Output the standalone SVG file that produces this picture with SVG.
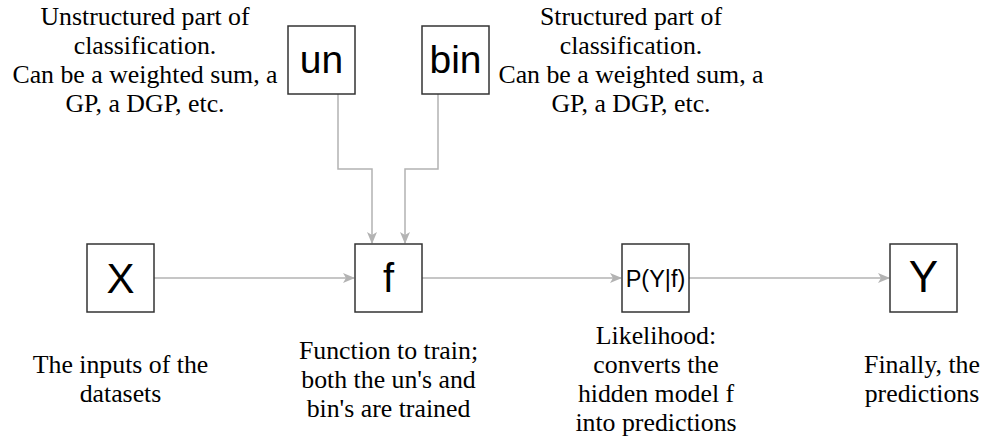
<svg xmlns="http://www.w3.org/2000/svg" width="984" height="441" viewBox="0 0 984 441">
  <style>
    .box { fill: #ffffff; stroke: #333333; stroke-width: 1.5; }
    .sym { font-family: "Liberation Sans", Arial, sans-serif; fill: #000000; text-anchor: middle; }
    .note { font-family: "Liberation Serif", "Times New Roman", serif; font-size: 25.8px; fill: #000000; text-anchor: middle; }
    .edge { fill: none; stroke: #b3b3b3; stroke-width: 1.5; }
  </style>
  <defs>
    <marker id="arrow" viewBox="0 0 12 10" refX="11" refY="5" markerWidth="12" markerHeight="10" markerUnits="userSpaceOnUse" orient="auto">
      <path d="M0,0 L12,5 L0,10 L3,5 z" fill="#b3b3b3"/>
    </marker>
  </defs>
  <rect width="984" height="441" fill="#ffffff"/>

  <!-- connectors -->
  <g id="connectors">
    <path class="edge" d="M154,278 H354" marker-end="url(#arrow)"/>
    <path class="edge" d="M422,278 H621" marker-end="url(#arrow)"/>
    <path class="edge" d="M689,278 H889" marker-end="url(#arrow)"/>
    <path class="edge" d="M338,94 V169 H372 V243" marker-end="url(#arrow)"/>
    <path class="edge" d="M438,94 V169 H405 V243" marker-end="url(#arrow)"/>
  </g>

  <!-- nodes -->
  <g id="node-un">
    <rect class="box" x="288" y="26" width="67" height="68"/>
    <text class="sym" x="321.5" y="73" font-size="39">un</text>
  </g>
  <g id="node-bin">
    <rect class="box" x="422" y="26" width="67" height="68"/>
    <text class="sym" x="455.5" y="73" font-size="39">bin</text>
  </g>
  <g id="node-x">
    <rect class="box" x="87" y="244" width="67" height="68"/>
    <text class="sym" x="120.5" y="293" font-size="42">X</text>
  </g>
  <g id="node-f">
    <rect class="box" x="355" y="244" width="67" height="68"/>
    <text class="sym" x="388.5" y="292" font-size="40">f</text>
  </g>
  <g id="node-likelihood">
    <rect class="box" x="622" y="244" width="67" height="68"/>
    <text class="sym" x="655.5" y="287" font-size="23.5">P(Y|f)</text>
  </g>
  <g id="node-y">
    <rect class="box" x="890" y="244" width="67" height="68"/>
    <text class="sym" x="923.5" y="292" font-size="44">Y</text>
  </g>

  <!-- annotations -->
  <g id="note-un">
    <text class="note" x="145" y="25">Unstructured part of</text>
    <text class="note" x="145" y="54">classification.</text>
    <text class="note" x="145" y="83">Can be a weighted sum, a</text>
    <text class="note" x="145" y="112">GP, a DGP, etc.</text>
  </g>
  <g id="note-bin">
    <text class="note" x="631" y="25">Structured part of</text>
    <text class="note" x="631" y="54">classification.</text>
    <text class="note" x="631" y="83">Can be a weighted sum, a</text>
    <text class="note" x="631" y="112">GP, a DGP, etc.</text>
  </g>
  <g id="note-x">
    <text class="note" x="120.5" y="373">The inputs of the</text>
    <text class="note" x="120.5" y="402">datasets</text>
  </g>
  <g id="note-f">
    <text class="note" x="388.5" y="359">Function to train;</text>
    <text class="note" x="388.5" y="388">both the un's and</text>
    <text class="note" x="388.5" y="417">bin's are trained</text>
  </g>
  <g id="note-likelihood">
    <text class="note" x="656" y="344">Likelihood:</text>
    <text class="note" x="656" y="373">converts the</text>
    <text class="note" x="656" y="402">hidden model f</text>
    <text class="note" x="656" y="431">into predictions</text>
  </g>
  <g id="note-y">
    <text class="note" x="922" y="373">Finally, the</text>
    <text class="note" x="922" y="402">predictions</text>
  </g>
</svg>
